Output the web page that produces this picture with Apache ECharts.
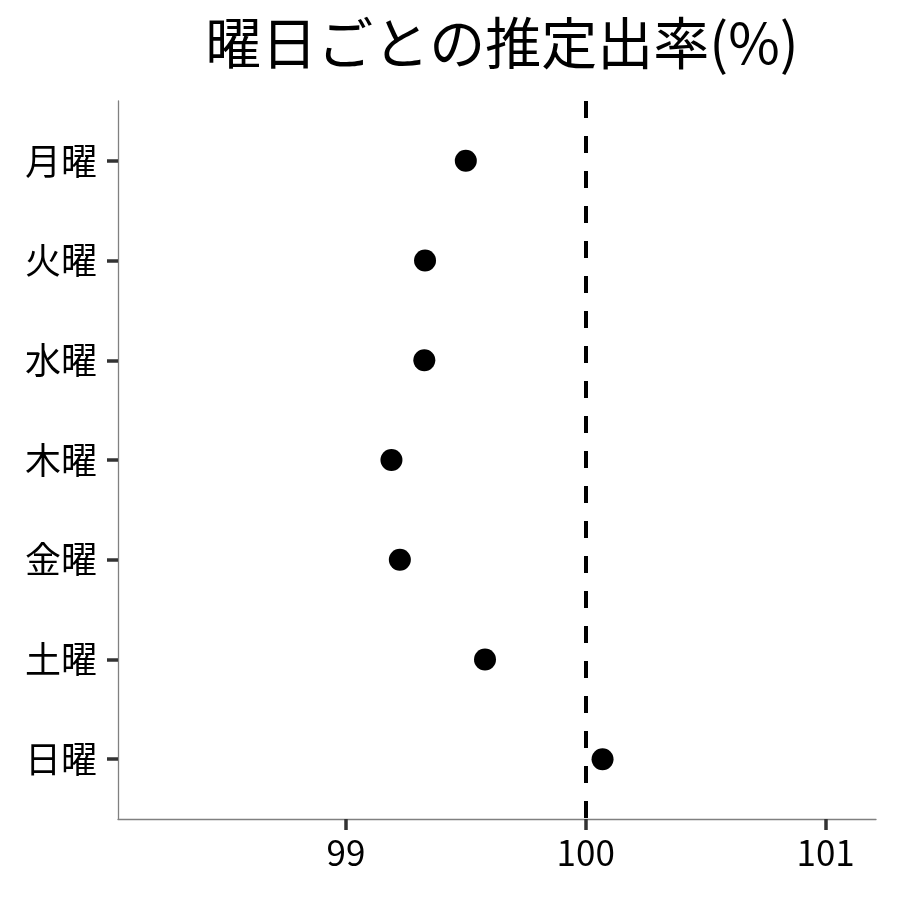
<!DOCTYPE html>
<html lang="ja">
<head>
    <meta charset="UTF-8">
    <title>曜日ごとの推定出率</title>
    <script src="https://cdn.jsdelivr.net/npm/echarts@6.0.0/dist/echarts.min.js"></script>
    <style>
        html, body { margin: 0; padding: 0; background: #fff; }
        #chart { width: 900px; height: 900px; }
    </style>
</head>
<body>
    <div id="chart"></div>
<script>
    // 曜日と推定出率(%)
    var days = ['月曜', '火曜', '水曜', '木曜', '金曜', '土曜', '日曜'];
    var rates = [99.50, 99.33, 99.327, 99.19, 99.225, 99.58, 100.07];
    var xTicks = [99, 100, 101];
    var refLine = 100;

    var font = '"Noto Sans CJK JP", "Noto Sans", sans-serif';
    var myChart = echarts.init(document.getElementById('chart'));

    var points = rates.map(function (v, i) { return [v, i]; });
    var dayIdx = days.map(function (d, i) { return i; });

    var option = {
        backgroundColor: '#fff',
        animation: false,
        title: {
            text: '曜日ごとの推定出率(%)',
            left: 497,
            textAlign: 'center',
            top: 10,
            textStyle: { fontFamily: font, fontSize: 56, fontWeight: 'normal', color: '#000' }
        },
        grid: { left: 118, right: 24, top: 101, bottom: 81, containLabel: false, outerBoundsMode: 'none' },
        xAxis: {
            type: 'value',
            min: 98.05,
            max: 101.21,
            splitLine: { show: false },
            axisLine: { onZero: false, lineStyle: { color: '#808080', width: 1.3 } },
            axisTick: { customValues: xTicks, length: 11, lineStyle: { color: '#333', width: 3.5 } },
            axisLabel: {
                customValues: xTicks, margin: 16,
                fontFamily: font, fontSize: 35, color: '#000'
            }
        },
        yAxis: {
            type: 'value',
            inverse: true,
            min: -0.6,
            max: 6.6,
            splitLine: { show: false },
            axisLine: { show: true, onZero: false, lineStyle: { color: '#808080', width: 1.3 } },
            axisTick: { show: true, customValues: dayIdx, length: 11, lineStyle: { color: '#333', width: 3.5 } },
            axisLabel: {
                customValues: dayIdx, margin: 21,
                fontFamily: font, fontSize: 36, color: '#000',
                formatter: function (v) { return days[Math.round(v)]; }
            }
        },
        series: [{
            type: 'scatter',
            data: points,
            symbolSize: 22,
            itemStyle: { color: '#000', opacity: 1 },
            markLine: {
                silent: true,
                symbol: ['none', 'none'],
                label: { show: false },
                lineStyle: { color: '#000', width: 4, type: [17, 18], opacity: 1 },
                data: [{ xAxis: refLine }]
            },
            z: 3
        }]
    };
    myChart.setOption(option);
</script>
</body>
</html>
